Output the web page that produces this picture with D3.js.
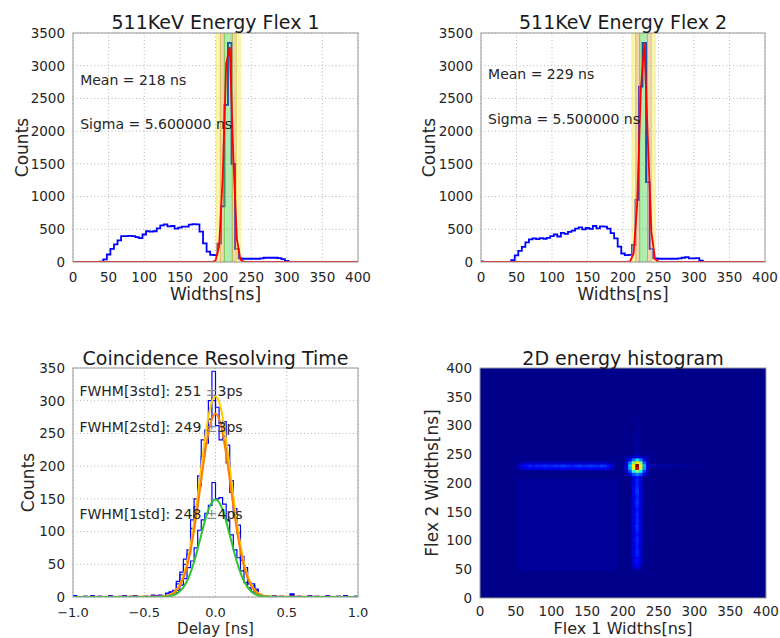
<!DOCTYPE html>
<html>
<head>
<meta charset="utf-8">
<script src="https://cdn.jsdelivr.net/npm/d3@7/dist/d3.min.js"></script>
<style>
html,body{margin:0;padding:0;background:#fff;}
svg{display:block;}
</style>
</head>
<body>
<svg id="chart" width="780" height="638"></svg>
<script>
// ================= DATA =================
// Energy (width) histograms, 5 ns bins (bin centres)
const widthCenters = [0,5,10,15,20,25,30,35,40,45,50,55,60,65,70,75,80,85,90,95,100,105,110,115,120,125,130,135,140,145,150,155,160,165,170,175,180,185,190,195,200,205,210,215,220,225,230,235,240,245,250,255,260,265,270,275,280,285,290,295,300,305,310,315,320,325,330,335,340,345,350,355,360,365,370,375,380,385,390,395,400];
const flex1Counts = [0,0,0,0,0,0,0,0,5,40,115,200,270,330,395,395,400,395,380,365,420,470,465,470,515,560,575,545,550,510,525,540,540,570,580,575,465,285,160,110,105,280,850,2400,3350,1500,200,55,50,50,50,50,50,55,65,65,65,65,60,45,15,0,0,0,0,0,0,0,0,0,0,0,0,0,0,0,0,0,0,0,0];
const flex2Counts = [10,0,0,0,0,0,0,0,0,30,100,170,230,300,345,360,350,365,355,370,395,420,390,445,430,460,480,510,530,500,520,505,550,515,545,540,510,440,360,235,130,105,110,260,950,2680,3350,1220,200,55,50,50,50,50,50,50,55,65,75,55,55,60,20,0,0,0,0,0,0,0,0,0,0,0,0,0,0,0,0,0,0];
// Gaussian fit curves (red), sampled at bin centres
const flex1FitX = [0,195,200,205,210,215,220,225,230,235,240,245,400];
const flex1FitY = [0,0,20,237,1262,3032,3284,1603,352,35,2,0,0];
const flex2FitX = [0,205,210,215,220,225,230,235,240,245,250,255,400];
const flex2FitY = [0,0,9,133,891,2610,3344,1875,460,49,2,0,0];
const flexMeans = [218, 229];
const flexSigmas = [5.6, 5.5];
const flexTitles = ["511KeV Energy Flex 1", "511KeV Energy Flex 2"];
const flexMeanLabels = ["Mean = 218 ns", "Mean = 229 ns"];
const flexSigmaLabels = ["Sigma = 5.600000 ns", "Sigma = 5.500000 ns"];
const widthTicks = [0,50,100,150,200,250,300,350,400];
const countTicks = [0,500,1000,1500,2000,2500,3000,3500];

// Coincidence resolving time, 25 ps bins
const delayCenters = [-0.9875,-0.9625,-0.9375,-0.9125,-0.8875,-0.8625,-0.8375,-0.8125,-0.7875,-0.7625,-0.7375,-0.7125,-0.6875,-0.6625,-0.6375,-0.6125,-0.5875,-0.5625,-0.5375,-0.5125,-0.4875,-0.4625,-0.4375,-0.4125,-0.3875,-0.3625,-0.3375,-0.3125,-0.2875,-0.2625,-0.2375,-0.2125,-0.1875,-0.1625,-0.1375,-0.1125,-0.0875,-0.0625,-0.0375,-0.0125,0.0125,0.0375,0.0625,0.0875,0.1125,0.1375,0.1625,0.1875,0.2125,0.2375,0.2625,0.2875,0.3125,0.3375,0.3625,0.3875,0.4125,0.4375,0.4625,0.4875,0.5125,0.5375,0.5625,0.5875,0.6125,0.6375,0.6625,0.6875,0.7125,0.7375,0.7625,0.7875,0.8125,0.8375,0.8625,0.8875,0.9125,0.9375,0.9625,0.9875];
const crt3Counts = [2,0,0,1,0,2,0,1,0,0,2,0,0,1,2,0,1,2,0,0, 1,0,3,2,3,2,6,8,10,24,38,58,72,118,150,185,240,255,300,345, 290,265,268,232,178,135,110,62,45,22,20,12,4,2,1,0,2,0,1,0, 0,5,0,1,0,0,2,0,1,0,0,2,0,0,1,0,2,0,0,1];
const crt2Counts = [1,0,0,1,0,1,0,1,0,0,2,0,0,0,1,0,1,1,0,0, 1,0,2,1,2,2,5,7,9,20,34,50,66,105,138,170,215,235,272,300, 262,240,246,205,160,124,98,56,40,20,17,10,3,2,1,0,1,0,1,0, 0,4,0,1,0,0,1,0,1,0,0,1,0,0,1,0,1,0,0,1];
const crt1Counts = [1,0,0,0,0,1,0,0,0,0,1,0,0,0,1,0,0,1,0,0, 0,0,1,1,1,1,2,3,5,10,18,28,45,55,75,102,118,128,140,175, 150,152,142,118,95,72,60,40,22,14,8,4,2,1,0,0,1,0,0,0, 0,2,0,0,0,0,1,0,0,0,0,1,0,0,0,0,1,0,0,0];
const crtFitX = [-1.0,-0.4,-0.375,-0.35,-0.325,-0.3,-0.275,-0.25,-0.225,-0.2,-0.175,-0.15,-0.125,-0.1,-0.075,-0.05,-0.025,0,0.025,0.05,0.075,0.1,0.125,0.15,0.175,0.2,0.225,0.25,0.275,0.3,0.325,0.35,0.375,0.4,1.0];
const crtFit3 = [0,0.3,0.6,1.4,2.9,5.9,11.0,19.6,33.1,52.8,79.8,114.1,154.4,197.7,239.7,275.0,298.7,307,298.7,275.0,239.7,197.7,154.4,114.1,79.8,52.8,33.1,19.6,11.0,5.9,2.9,1.4,0.6,0.3,0];
const crtFit2 = [0,0.2,0.5,1.2,2.5,5.0,9.5,17.1,29.1,46.7,71.1,102.3,139.1,179.0,217.7,250.3,272.3,280,272.3,250.3,217.7,179.0,139.1,102.3,71.1,46.7,29.1,17.1,9.5,5.0,2.5,1.2,0.5,0.2,0];
const crtFit1 = [0,0.1,0.3,0.6,1.3,2.6,4.9,8.9,15.2,24.5,37.4,54.0,73.7,94.9,115.6,133.1,144.9,149,144.9,133.1,115.6,94.9,73.7,54.0,37.4,24.5,15.2,8.9,4.9,2.6,1.3,0.6,0.3,0.1,0];
const fwhmLabels = [["FWHM[3std]: 251 ", "±", "3ps"], ["FWHM[2std]: 249 ", "±", "3ps"], ["FWHM[1std]: 248 ", "±", "4ps"]];
const delayTicks = [-1.0,-0.5,0.0,0.5,1.0];
const delayTickLabels = ["\u22121.0","\u22120.5","0.0","0.5","1.0"];
const crtCountTicks = [0,50,100,150,200,250,300,350];

// 2D energy histogram (5 ns bins, counts)
const heatBackground = 1;
const heatSquareX = [52.5, 192.5];
const heatSquareY = [47.5, 207.5];
const heatSquareCount = 2.6;
const hBandX = [55,60,65,70,75,80,85,90,95,100,105,110,115,120,125,130,135,140,145,150,155,160,165,170,175,180,185];
const hBandRowY = [225, 230, 235];
const hBandCounts = [
  [5,8,9,10,9,10,10,11,10,10,11,10,12,11,10,10,11,12,10,11,12,11,10,12,11,9,6],
  [8,12,14,15,14,16,15,17,16,15,17,16,18,17,16,15,17,18,16,17,18,17,16,18,17,14,10],
  [3,5,6,6,6,7,6,7,7,6,7,7,7,7,6,6,7,7,6,7,7,7,6,7,7,5,4]
];
const vBandY = [50,55,60,65,70,75,80,85,90,95,100,105,110,115,120,125,130,135,140,145,150,155,160,165,170,175,180,185,190,195,200,205,210];
const vBandColX = [215, 220, 225];
const vBandCounts = [
  [4,6,8,9,8,9,10,9,9,9,10,9,9,9,10,10,9,10,9,10,9,9,10,10,10,9,10,11,10,10,9,10,9],
  [6,10,13,14,13,15,16,15,14,15,16,15,14,15,16,17,15,16,15,16,15,14,16,17,16,15,16,18,17,16,15,16,14],
  [3,5,6,7,6,7,8,7,7,7,8,7,7,7,8,8,7,8,7,8,7,7,8,8,8,7,8,9,8,8,7,8,7]
];
const tailRightX = [240,245,250,255,260,265,270,275,280,285,290,295,300];
const tailRightCounts = [4,4,3,3,3,3,3,2,3,2,2,2,2];
const tailUpY = [250,255,260,265,270,275,280,285,290,295,300,305,310];
const tailUpCounts = [4,4,3,3,3,3,3,2,3,2,2,2,2];
const spotX = [205,210,215,220,225,230,235];
const spotY = [245,240,235,230,225,220,215];
const spotCounts = [
  [3,5,8,10,8,5,3],
  [5,12,25,35,25,12,5],
  [8,25,50,65,50,22,7],
  [10,32,62,100,60,30,9],
  [10,30,60,92,58,28,8],
  [7,20,40,50,38,18,6],
  [4,10,20,25,20,10,4]
];
const heatMax = 100;
const heatTicks = [0,50,100,150,200,250,300,350,400];

// ================= DRAWING =================
const FONT = '"DejaVu Sans", "Liberation Sans", sans-serif';
const svg = d3.select("#chart");
const defs = svg.append("defs");
const TXT = "#262626";

const panels = [
  {l:73,  r:358, t:33,  b:262, tk:20,   tf:13.5, xl:37.5, xf:17},
  {l:481, r:765, t:33,  b:262, tk:20,   tf:13.5, xl:37.5, xf:17},
  {l:73,  r:358, t:368, b:597, tk:20.3, tf:13,   xl:37.4, xf:15},
  {l:480, r:766, t:368, b:598, tk:18,   tf:13.5, xl:36.3, xf:16}
];

function addClip(id, p){
  defs.append("clipPath").attr("id", id).append("rect")
    .attr("x", p.l).attr("y", p.t).attr("width", p.r - p.l).attr("height", p.b - p.t);
}

function grid(g, p, x, y, xt, yt){
  g.selectAll(null).data(xt).enter().append("line")
    .attr("x1", d => x(d)).attr("x2", d => x(d)).attr("y1", p.t).attr("y2", p.b)
    .attr("stroke", "#b5b5b5").attr("stroke-width", 1).attr("stroke-dasharray", "1,2.5");
  g.selectAll(null).data(yt).enter().append("line")
    .attr("y1", d => y(d)).attr("y2", d => y(d)).attr("x1", p.l).attr("x2", p.r)
    .attr("stroke", "#b5b5b5").attr("stroke-width", 1).attr("stroke-dasharray", "1,2.5");
}

function axesText(g, p, x, y, xt, xl, yt, yl, title, xlabel, ylabel, ylabelX, titleY){
  g.selectAll(null).data(xt).enter().append("text")
    .attr("x", d => x(d)).attr("y", p.b + p.tk).attr("text-anchor", "middle")
    .attr("font-family", FONT).attr("font-size", p.tf).attr("fill", TXT)
    .text((d,i) => xl[i]);
  g.selectAll(null).data(yt).enter().append("text")
    .attr("x", p.l - 8).attr("y", d => y(d)).attr("dy", "0.36em").attr("text-anchor", "end")
    .attr("font-family", FONT).attr("font-size", 13.5).attr("fill", TXT)
    .text((d,i) => yl[i]);
  g.append("text").attr("x", (p.l + p.r)/2).attr("y", titleY).attr("text-anchor", "middle")
    .attr("font-family", FONT).attr("font-size", 19).attr("fill", "#1a1a1a").text(title);
  g.append("text").attr("x", (p.l + p.r)/2).attr("y", p.b + p.xl).attr("text-anchor", "middle")
    .attr("font-family", FONT).attr("font-size", p.xf).attr("fill", TXT).text(xlabel);
  g.append("text").attr("transform", `translate(${ylabelX},${(p.t + p.b)/2}) rotate(-90)`)
    .attr("text-anchor", "middle")
    .attr("font-family", FONT).attr("font-size", 17).attr("fill", TXT).text(ylabel);
}

function frame(g, p){
  g.append("rect").attr("x", p.l).attr("y", p.t).attr("width", p.r - p.l).attr("height", p.b - p.t)
    .attr("fill", "none").attr("stroke", "#9a9a9a").attr("stroke-width", 1);
}

function stepPoints(centers, counts, w){
  const pts = [[centers[0] - w/2, 0]];
  centers.forEach((c, i) => { pts.push([c - w/2, counts[i]]); pts.push([c + w/2, counts[i]]); });
  pts.push([centers[centers.length - 1] + w/2, 0]);
  return pts;
}

// ---------- energy panels ----------
const flexCounts = [flex1Counts, flex2Counts];
const flexFitX = [flex1FitX, flex2FitX];
const flexFitY = [flex1FitY, flex2FitY];
const textTop = [[52, 95.5], [45.5, 90.5]];
const ylabX = [27.5, 435];

[0,1].forEach(k => {
  const p = panels[k];
  const x = d3.scaleLinear().domain([0, 400]).range([p.l, p.r]);
  const y = d3.scaleLinear().domain([0, 3500]).range([p.b, p.t]);
  const g = svg.append("g");
  addClip("clip" + k, p);
  grid(g, p, x, y, widthTicks, countTicks);
  const pg = g.append("g").attr("clip-path", `url(#clip${k})`);
  const line = d3.line().x(d => x(d[0])).y(d => y(d[1]));
  pg.append("path").attr("d", line(stepPoints(widthCenters, flexCounts[k], 5)))
    .attr("fill", "none").attr("stroke", "#0000ff").attr("stroke-width", 1.8).attr("stroke-linejoin", "miter");
  const m = flexMeans[k], s = flexSigmas[k];
  const bands = [
    [m - 3*s, m - 2*s, "rgb(240,228,60)"],
    [m - 2*s, m - s,   "rgb(212,150,45)"],
    [m - s,   m + s,   "rgb(45,205,45)"],
    [m + s,   m + 2*s, "rgb(212,150,45)"],
    [m + 2*s, m + 3*s, "rgb(240,228,60)"]
  ];
  bands.forEach(b => {
    pg.append("rect").attr("x", x(b[0])).attr("y", p.t).attr("width", x(b[1]) - x(b[0])).attr("height", p.b - p.t)
      .attr("fill", b[2]).attr("fill-opacity", 0.38).attr("stroke", b[2]).attr("stroke-opacity", 0.45).attr("stroke-width", 1);
  });
  const fitPts = flexFitX[k].map((v, i) => [v, flexFitY[k][i]]);
  pg.append("path").attr("d", line(fitPts)).attr("fill", "none").attr("stroke", "#ff0000").attr("stroke-width", 1.8);
  g.append("text").attr("x", x(10)).attr("y", p.t + textTop[k][0]).attr("font-family", FONT).attr("font-size", 14).attr("fill", TXT).text(flexMeanLabels[k]);
  g.append("text").attr("x", x(10)).attr("y", p.t + textTop[k][1]).attr("font-family", FONT).attr("font-size", 14).attr("fill", TXT).text(flexSigmaLabels[k]);
  frame(g, p);
  axesText(g, p, x, y, widthTicks, widthTicks.map(String), countTicks, countTicks.map(String),
    flexTitles[k], "Widths[ns]", "Counts", ylabX[k], 28.5);
});

// ---------- coincidence panel ----------
(function(){
  const p = panels[2];
  const x = d3.scaleLinear().domain([-1, 1]).range([p.l, p.r]);
  const y = d3.scaleLinear().domain([0, 350]).range([p.b, p.t]);
  const g = svg.append("g");
  addClip("clip2", p);
  grid(g, p, x, y, delayTicks, crtCountTicks);
  const pg = g.append("g").attr("clip-path", "url(#clip2)");
  const line = d3.line().x(d => x(d[0])).y(d => y(d[1]));
  [crt3Counts, crt2Counts, crt1Counts].forEach(c => {
    pg.append("path").attr("d", line(stepPoints(delayCenters, c, 0.025)))
      .attr("fill", "none").attr("stroke", "#0000ff").attr("stroke-width", 1.2);
  });
  const fitLine = d3.line().x(d => x(d[0])).y(d => y(d[1])).curve(d3.curveMonotoneX);
  const fits = [[crtFit3, "#ffcc00"], [crtFit2, "#ff8000"], [crtFit1, "#2ec42e"]];
  fits.forEach(f => {
    pg.append("path").attr("d", fitLine(crtFitX.map((v, i) => [v, f[0][i]])))
      .attr("fill", "none").attr("stroke", f[1]).attr("stroke-width", 2);
  });
  const ty = [395.5, 432, 518.5];
  fwhmLabels.forEach((lab, i) => {
    const t = g.append("text").attr("x", x(-0.955)).attr("y", ty[i]).attr("font-family", FONT).attr("font-size", 14).attr("fill", TXT);
    t.append("tspan").text(lab[0]);
    t.append("tspan").attr("fill", "#8a8a8a").text(lab[1]);
    t.append("tspan").text(lab[2]);
  });
  frame(g, p);
  axesText(g, p, x, y, delayTicks, delayTickLabels, crtCountTicks, crtCountTicks.map(String),
    "Coincidence Resolving Time", "Delay [ns]", "Counts", 33.5, 364.5);
})();

// ---------- 2D histogram panel ----------
(function(){
  const p = panels[3];
  const x = d3.scaleLinear().domain([0, 400]).range([p.l, p.r]);
  const y = d3.scaleLinear().domain([0, 400]).range([p.b, p.t]);
  const clamp = v => Math.max(0, Math.min(1, v));
  const jet = t => {
    const r = clamp(1.5 - Math.abs(4*t - 3)), gg = clamp(1.5 - Math.abs(4*t - 2)), b = clamp(1.5 - Math.abs(4*t - 1));
    return `rgb(${Math.round(r*255)},${Math.round(gg*255)},${Math.round(b*255)})`;
  };
  const color = d3.scaleSequential(jet).domain([0, heatMax]);
  const g = svg.append("g");
  addClip("clip3", p);
  defs.append("filter").attr("id", "soft").attr("x", "-5%").attr("y", "-5%").attr("width", "110%").attr("height", "110%")
    .append("feGaussianBlur").attr("stdDeviation", 0.75);
  const cg = g.append("g").attr("clip-path", "url(#clip3)");
  cg.append("rect").attr("x", p.l).attr("y", p.t).attr("width", p.r - p.l).attr("height", p.b - p.t).attr("fill", color(heatBackground));
  const hg = cg.append("g").attr("filter", "url(#soft)");
  hg.append("rect").attr("x", x(heatSquareX[0])).attr("y", y(heatSquareY[1]))
    .attr("width", x(heatSquareX[1]) - x(heatSquareX[0])).attr("height", y(heatSquareY[0]) - y(heatSquareY[1]))
    .attr("fill", color(heatSquareCount));
  const cell = (cx, cy, v) => {
    hg.append("rect").attr("x", x(cx - 2.5) - 0.15).attr("y", y(cy + 2.5) - 0.15)
      .attr("width", x(cx + 2.5) - x(cx - 2.5) + 0.3).attr("height", y(cy - 2.5) - y(cy + 2.5) + 0.3)
      .attr("fill", color(v));
  };
  hBandRowY.forEach((ry, r) => hBandX.forEach((cx, i) => cell(cx, ry, hBandCounts[r][i])));
  vBandColX.forEach((cx, c) => vBandY.forEach((cy, i) => cell(cx, cy, vBandCounts[c][i])));
  tailRightX.forEach((cx, i) => cell(cx, 230, tailRightCounts[i]));
  tailUpY.forEach((cy, i) => cell(220, cy, tailUpCounts[i]));
  spotY.forEach((cy, r) => spotX.forEach((cx, c) => cell(cx, cy, spotCounts[r][c])));
  frame(g, p);
  axesText(g, p, x, y, heatTicks, heatTicks.map(String), heatTicks, heatTicks.map(String),
    "2D energy histogram", "Flex 1 Widths[ns]", "Flex 2 Widths[ns]", 438, 364.5);
})();
</script>
</body>
</html>
